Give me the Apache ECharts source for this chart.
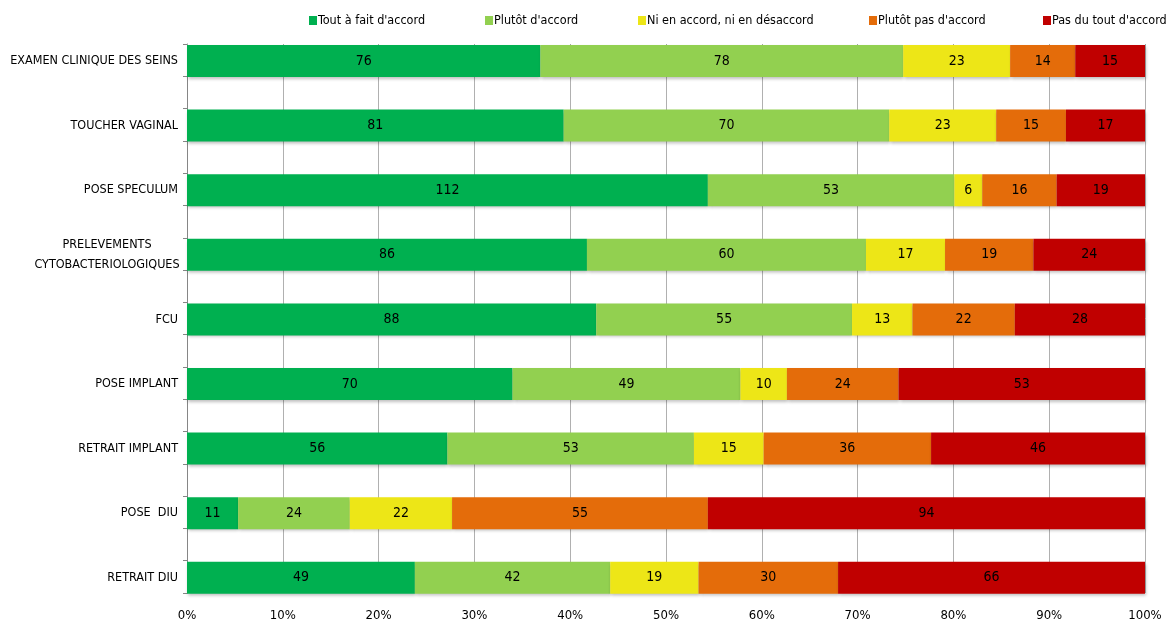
<!DOCTYPE html>
<html lang="fr">
  <head>
    <meta charset="UTF-8" />
    <title>Gestes</title>
    <script src="https://cdn.jsdelivr.net/npm/echarts@6/dist/echarts.min.js"></script>
    <style>
      html,
      body {
        margin: 0;
        padding: 0;
        background: #fff;
      }
      #chart {
        width: 1167px;
        height: 626px;
      }
    </style>
  </head>
  <body>
    <div id="chart"></div>
    <script>
      var categories = [
        "EXAMEN CLINIQUE DES SEINS",
        "TOUCHER VAGINAL",
        "POSE SPECULUM",
        "PRELEVEMENTS\nCYTOBACTERIOLOGIQUES",
        "FCU",
        "POSE IMPLANT",
        "RETRAIT IMPLANT",
        "POSE  DIU",
        "RETRAIT DIU",
      ];
      var seriesNames = [
        "Tout à fait d'accord",
        "Plutôt d'accord",
        "Ni en accord, ni en désaccord",
        "Plutôt pas d'accord",
        "Pas du tout d'accord",
      ];
      var toutAFait = [76, 81, 112, 86, 88, 70, 56, 11, 49];
      var plutot = [78, 70, 53, 60, 55, 49, 53, 24, 42];
      var neutre = [23, 23, 6, 17, 13, 10, 15, 22, 19];
      var plutotPas = [14, 15, 16, 19, 22, 24, 36, 55, 30];
      var pasDuTout = [15, 17, 19, 24, 28, 53, 46, 94, 66];
      var xTickLabels = ["0%", "10%", "20%", "30%", "40%", "50%", "60%", "70%", "80%", "90%", "100%"];

      var colors = ["#00b050", "#92d050", "#ede617", "#e46c0a", "#c00000"];
      var legendLeft = [309, 485, 638, 869, 1043];
      var font = "'DejaVu Sans Condensed', 'Liberation Sans Narrow', sans-serif";
      var fs = 12.5;

      var allSeries = [toutAFait, plutot, neutre, plutotPas, pasDuTout];
      var totals = categories.map(function (c, i) {
        return allSeries.reduce(function (s, arr) {
          return s + arr[i];
        }, 0);
      });

      var chart = echarts.init(document.getElementById("chart"));

      var option = {
        animation: false,
        textStyle: { fontFamily: font, color: "#000" },
        legend: seriesNames.map(function (n, i) {
          return {
            data: [n],
            left: legendLeft[i],
            top: 14,
            padding: 0,
            itemWidth: 8,
            itemHeight: 9,
            itemGap: 0,
            icon: "rect",
            selectedMode: false,
            textStyle: { fontFamily: font, fontSize: fs, color: "#000", padding: [0, 0, 0, -4] },
          };
        }),
        grid: [
          // bars
          { left: 187, right: 22, top: 28.7, bottom: 15.9, outerBoundsMode: "none", containLabel: false },
          // gridlines and axes
          { left: 187, right: 22, top: 44, height: 549, outerBoundsMode: "none", containLabel: false },
        ],
        xAxis: [
          {
            gridIndex: 0,
            type: "value",
            min: 0,
            max: 100,
            show: false,
          },
          {
            gridIndex: 1,
            type: "value",
            min: 0,
            max: 100,
            interval: 10,
            axisLine: { show: false },
            axisTick: { show: true, length: 6, lineStyle: { color: "#a6a6a6" } },
            splitLine: { show: true, lineStyle: { color: "#b0b0b0", width: 1 } },
            axisLabel: {
              margin: 16,
              fontSize: 13,
              color: "#000",
              formatter: function (v) {
                return xTickLabels[Math.round(v / 10)];
              },
            },
          },
        ],
        yAxis: [
          {
            gridIndex: 0,
            type: "category",
            inverse: true,
            data: categories,
            axisLine: { show: false },
            axisTick: { show: false },
            axisLabel: {
              margin: 9,
              fontSize: fs,
              color: "#000",
              lineHeight: 20,
              formatter: function (v) {
                if (v.indexOf("\n") >= 0) {
                  return v
                    .split("\n")
                    .map(function (l) {
                      return "{c|" + l + "}";
                    })
                    .join("\n");
                }
                return v;
              },
              rich: {
                c: { width: 142, align: "center", fontSize: fs, fontFamily: font, lineHeight: 20 },
              },
            },
          },
          {
            gridIndex: 1,
            type: "value",
            inverse: true,
            min: 0,
            max: 17,
            interval: 1,
            axisLine: { show: true, lineStyle: { color: "#868686" } },
            axisTick: { show: true, length: 4, lineStyle: { color: "#868686" } },
            axisLabel: { show: false },
            splitLine: { show: false },
          },
        ],
        series: allSeries.map(function (arr, k) {
          return {
            name: seriesNames[k],
            type: "bar",
            stack: "total",
            xAxisIndex: 0,
            yAxisIndex: 0,
            barWidth: 32,
            itemStyle: {
              color: colors[k],
              shadowColor: "rgba(0,0,0,0.25)",
              shadowBlur: 3,
              shadowOffsetX: 1,
              shadowOffsetY: 2,
            },
            label: {
              show: true,
              position: "inside",
              fontSize: 14,
              fontFamily: font,
              color: "#000",
              formatter: function (p) {
                return arr[p.dataIndex];
              },
            },
            data: arr.map(function (v, i) {
              return (v / totals[i]) * 100;
            }),
          };
        }),
      };

      chart.setOption(option);
    </script>
  </body>
</html>
